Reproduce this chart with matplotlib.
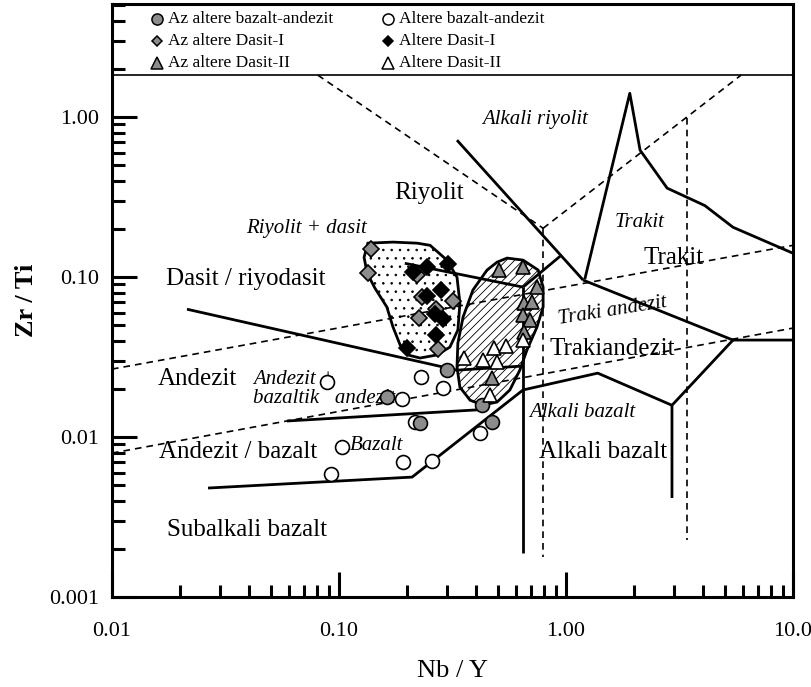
import matplotlib
matplotlib.use("Agg")
import matplotlib.pyplot as plt
from matplotlib.ticker import FixedLocator, FixedFormatter, LogLocator, NullFormatter

plt.rcParams['font.family'] = ['Liberation Serif', 'DejaVu Serif']
plt.rcParams['hatch.linewidth'] = 0.6

# --- sample data (Nb/Y, Zr/Ti) ---
gray_circ_x = [0.299, 0.1625, 0.2275, 0.4266, 0.472]
gray_circ_y = [0.0262, 0.0178, 0.01224, 0.01585, 0.0124]

open_circ_x = [0.0885, 0.2296, 0.287, 0.19, 0.216, 0.418, 0.103, 0.191, 0.257, 0.0923]
open_circ_y = [0.0221, 0.0237, 0.0202, 0.0173, 0.0124, 0.0106, 0.00866, 0.00698, 0.00708, 0.00588]

gray_dia_x = [0.138, 0.134, 0.221, 0.232, 0.318, 0.267, 0.225, 0.273]
gray_dia_y = [0.1496, 0.106, 0.103, 0.075, 0.0708, 0.0631, 0.0554, 0.0355]

black_dia_x = [0.244, 0.302, 0.212, 0.281, 0.244, 0.265, 0.287, 0.267, 0.1995]
black_dia_y = [0.1155, 0.1205, 0.1075, 0.083, 0.076, 0.0587, 0.0546, 0.0434, 0.036]

gray_tri_x = [0.507, 0.647, 0.745, 0.653, 0.708, 0.647, 0.693, 0.653, 0.472]
gray_tri_y = [0.1107, 0.1155, 0.0866, 0.0688, 0.0698, 0.0579, 0.0538, 0.0453, 0.0234]

open_tri_x = [0.356, 0.430, 0.482, 0.545, 0.497, 0.647, 0.462]
open_tri_y = [0.0312, 0.0303, 0.036, 0.0371, 0.0294, 0.0404, 0.0183]

# --- sample envelopes ---
env1_x = [0.134, 0.173, 0.221, 0.252, 0.299, 0.331, 0.341, 0.334, 0.308, 0.27,
          0.2275, 0.201, 0.186, 0.173, 0.1625, 0.144, 0.133, 0.129]
env1_y = [0.163, 0.1655, 0.163, 0.158, 0.1277, 0.1, 0.0688, 0.0467, 0.0365, 0.0326,
          0.0312, 0.0326, 0.0376, 0.0487, 0.065, 0.0853, 0.106, 0.133]

env2_x = [0.55, 0.647, 0.754, 0.793, 0.793, 0.745, 0.673, 0.626, 0.566, 0.497,
          0.43, 0.378, 0.341, 0.331, 0.334, 0.352, 0.389, 0.449, 0.497]
env2_y = [0.1315, 0.1277, 0.1107, 0.0866, 0.065, 0.0487, 0.035, 0.0262, 0.0197, 0.01655,
          0.01585, 0.017, 0.0205, 0.0274, 0.0387, 0.0562, 0.083, 0.1107, 0.124]

# --- classification boundaries (Winchester & Floyd, solid) ---
solid_lines = [
    ([0.0214, 0.331, 0.647], [0.063, 0.0262, 0.0278]),
    ([0.195, 0.647], [0.122, 0.0866]),
    ([0.647, 0.647], [0.0866, 0.00188]),
    ([0.647, 0.942], [0.0866, 0.135]),
    ([0.331, 1.19], [0.718, 0.0958]),
    ([1.19, 5.44, 10.0], [0.0958, 0.0404, 0.0404]),
    ([5.44, 2.93, 2.93], [0.0404, 0.0158, 0.00416]),
    ([0.0265, 0.210, 0.647, 1.38, 2.93], [0.0048, 0.00562, 0.0197, 0.0251, 0.0158]),
    ([1.21, 1.91, 2.12, 2.79, 4.09, 5.44, 10.0], [0.097, 1.41, 0.622, 0.36, 0.28, 0.205, 0.141]),
    ([0.059, 0.409], [0.0126, 0.0148]),
]

# --- Pearce boundaries (dashed) ---
dashed_lines = [
    ([0.01, 10.0], [0.0266, 0.158]),
    ([0.01, 10.0], [0.00794, 0.048]),
    ([0.0807, 0.793], [1.83, 0.202]),
    ([0.793, 5.9], [0.202, 1.83]),
    ([0.793, 0.793], [0.202, 0.00178]),
    ([3.41, 3.41], [0.99, 0.00227]),
]

fig = plt.figure(figsize=(8.12, 6.87), dpi=100)
ax = fig.add_axes([0.1379, 0.1310, 0.8387, 0.8632])
ax.set_xscale('log')
ax.set_yscale('log')
ax.set_xlim(0.01, 10)
ax.set_ylim(0.001, 5.1)

ax.fill(env1_x, env1_y, facecolor='white', edgecolor='black', lw=2, hatch='..', zorder=2)
ax.fill(env2_x, env2_y, facecolor='white', edgecolor='black', lw=2, hatch='////', zorder=2)

for xs, ys in solid_lines:
    ax.plot(xs, ys, color='black', lw=2.0, zorder=3, solid_capstyle='butt')
for xs, ys in dashed_lines:
    ax.plot(xs, ys, color='black', lw=1.2, ls=(0, (4, 3)), zorder=3)

# legend band separator
ax.axhline(1.83, color='black', lw=1.2, zorder=3)

grey = '#8c8c8c'
ms_c, ms_d, ms_t = 10, 8, 10.5
ax.plot(open_circ_x, open_circ_y, 'o', ms=ms_c, mfc='white', mec='black', mew=1.2, zorder=5)
ax.plot(gray_circ_x, gray_circ_y, 'o', ms=ms_c, mfc=grey, mec='black', mew=1.2, zorder=5)
ax.plot(gray_dia_x, gray_dia_y, 'D', ms=ms_d, mfc=grey, mec='black', mew=1.2, zorder=5)
ax.plot(black_dia_x, black_dia_y, 'D', ms=ms_d, mfc='black', mec='black', mew=1.2, zorder=5)
ax.plot(gray_tri_x, gray_tri_y, '^', ms=ms_t, mfc=grey, mec='black', mew=1.2, zorder=5)
ax.plot(open_tri_x, open_tri_y, '^', ms=ms_t, mfc='white', mec='black', mew=1.2, zorder=5)

# legend drawn in the top band
legend_items = [
    ('o', grey, 'Az altere bazalt-andezit', 8),
    ('o', 'white', 'Altere bazalt-andezit', 8),
    ('D', grey, 'Az altere Dasit-I', 5.5),
    ('D', 'black', 'Altere Dasit-I', 5.5),
    ('^', grey, 'Az altere Dasit-II', 8),
    ('^', 'white', 'Altere Dasit-II', 8),
]
col_x = [0.066, 0.405]
row_y = [0.974, 0.937, 0.900]
for i, (m, fc, label, ms) in enumerate(legend_items):
    cx, cy = col_x[i % 2], row_y[i // 2]
    ax.plot([cx], [cy], m, ms=ms, mfc=fc, mec='black', mew=1.1, transform=ax.transAxes, clip_on=False)
    ax.text(cx + 0.016, cy, label, transform=ax.transAxes, fontsize=12.5, va='center', ha='left')

# field names
big = 18
ax.text(0.249, 0.335, 'Riyolit', fontsize=big, ha='center', va='center')
ax.text(0.0389, 0.0972, 'Dasit / riyodasit', fontsize=big, ha='center', va='center')
ax.text(0.0237, 0.023, 'Andezit', fontsize=big, ha='center', va='center')
ax.text(0.0359, 0.00806, 'Andezit / bazalt', fontsize=big, ha='center', va='center')
ax.text(0.0394, 0.00262, 'Subalkali bazalt', fontsize=big, ha='center', va='center')
ax.text(1.455, 0.00806, 'Alkali bazalt', fontsize=big, ha='center', va='center')
ax.text(1.595, 0.0355, 'Trakiandezit', fontsize=big, ha='center', va='center')
ax.text(2.99, 0.131, 'Trakit', fontsize=big, ha='center', va='center')

sm = 15
ax.text(0.729, 0.972, 'Alkali riyolit', fontsize=sm, style='italic', ha='center', va='center')
ax.text(0.0716, 0.2, 'Riyolit + dasit', fontsize=sm, style='italic', ha='center', va='center')
ax.text(2.1, 0.221, 'Trakit', fontsize=sm, style='italic', ha='center', va='center')
ax.text(1.595, 0.0613, 'Traki andezit', fontsize=sm, style='italic', ha='center', va='center', rotation=9)
ax.text(0.0418, 0.023, 'Andezit +', fontsize=sm, style='italic', ha='left', va='center')
ax.text(0.0418, 0.01754, 'bazaltik   andezit', fontsize=sm, style='italic', ha='left', va='center')
ax.text(0.1117, 0.0089, 'Bazalt', fontsize=sm, style='italic', ha='left', va='center')
ax.text(1.175, 0.0143, 'Alkali bazalt', fontsize=sm, style='italic', ha='center', va='center')

# axes styling
for side in ['top', 'right', 'bottom', 'left']:
    ax.spines[side].set_linewidth(2.2)

ax.xaxis.set_major_locator(FixedLocator([0.01, 0.1, 1, 10]))
ax.xaxis.set_major_formatter(FixedFormatter(['0.01', '0.10', '1.00', '10.0']))
ax.yaxis.set_major_locator(FixedLocator([0.001, 0.01, 0.1, 1]))
ax.yaxis.set_major_formatter(FixedFormatter(['0.001', '0.01', '0.10', '1.00']))
ax.xaxis.set_minor_locator(LogLocator(subs=range(2, 10)))
ax.yaxis.set_minor_locator(LogLocator(subs=range(2, 10)))
ax.xaxis.set_minor_formatter(NullFormatter())
ax.yaxis.set_minor_formatter(NullFormatter())
ax.tick_params(which='both', direction='in', width=2.2, top=False, right=False)
ax.tick_params(which='major', length=18, labelsize=16)
ax.tick_params(which='minor', length=9)
ax.tick_params(axis='x', which='major', pad=18)
ax.tick_params(axis='y', which='major', pad=9)

ax.set_xlabel('Nb / Y', fontsize=19, labelpad=14)
ax.set_ylabel('Zr / Ti', fontsize=19, fontweight='bold', labelpad=8)

fig.savefig('out.png', dpi=100)
